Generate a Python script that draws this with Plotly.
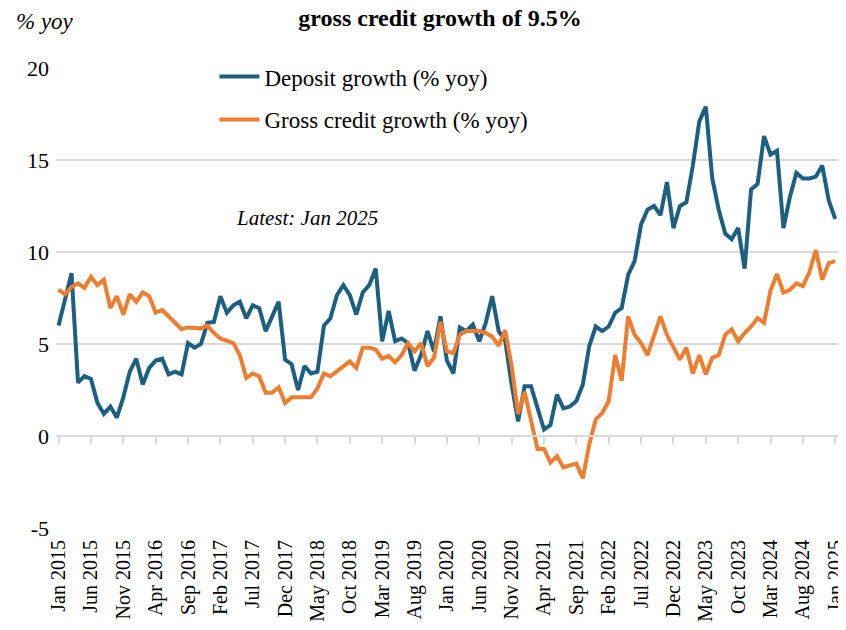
import plotly.graph_objects as go

# Monthly data, Jan 2015 .. Jan 2025 (121 months)
deposit_growth = [
    6.0, 7.4, 8.85, 2.9, 3.25, 3.1, 1.8, 1.2, 1.6, 1.0,
    2.1, 3.5, 4.2, 2.8, 3.7, 4.1, 4.2, 3.35, 3.5, 3.35,
    5.05, 4.8, 5.0, 6.15, 6.2, 7.6, 6.7, 7.1, 7.3, 6.4,
    7.1, 6.95, 5.7, 6.5, 7.3, 4.15, 3.9, 2.5, 3.8, 3.4,
    3.5, 6.0, 6.4, 7.65, 8.2, 7.65, 6.6, 7.8, 8.2, 9.1,
    5.15, 6.8, 5.15, 5.3, 5.05, 3.55, 4.4, 5.7, 4.6, 6.5,
    4.1, 3.4, 5.9, 5.7, 6.05, 5.15, 6.15, 7.6, 5.7, 5.2,
    2.8, 0.8, 2.7, 2.7, 1.6, 0.35, 0.6, 2.25, 1.5, 1.6,
    1.9, 2.8, 4.9, 5.95, 5.7, 5.95, 6.7, 6.95, 8.75, 9.5,
    11.5, 12.3, 12.5, 12.0, 13.8, 11.3, 12.5, 12.7, 14.7, 17.1,
    17.9, 14.0, 12.3, 11.0, 10.7, 11.3, 9.1, 13.4, 13.7, 16.3,
    15.3, 15.5, 11.3, 13.0, 14.3, 14.0, 14.0, 14.1, 14.7, 12.8,
    11.8,
]

gross_credit_growth = [
    7.95, 7.7, 8.1, 8.3, 8.05, 8.65, 8.2, 8.5, 6.95, 7.6,
    6.6, 7.7, 7.3, 7.8, 7.6, 6.7, 6.85, 6.5, 6.15, 5.8,
    5.9, 5.9, 5.85, 6.0, 5.6, 5.3, 5.2, 5.05, 4.4, 3.15,
    3.4, 3.25, 2.35, 2.35, 2.65, 1.8, 2.1, 2.1, 2.1, 2.1,
    2.6, 3.4, 3.25, 3.5, 3.8, 4.05, 3.7, 4.8, 4.8, 4.7,
    4.2, 4.35, 4.0, 4.4, 5.05, 4.6, 5.05, 3.8, 4.25, 6.2,
    4.6, 4.5, 5.5, 5.7, 5.7, 5.7, 5.6, 5.4, 4.9, 5.75,
    3.8, 1.2, 2.4, 0.9, -0.7, -0.7, -1.45, -1.1, -1.7, -1.6,
    -1.5, -2.3, -0.45, 0.9, 1.25, 1.9, 4.4, 3.0, 6.5, 5.5,
    5.05, 4.4, 5.5, 6.5, 5.5, 4.8, 4.15, 4.8, 3.4, 4.4,
    3.35, 4.25, 4.4, 5.5, 5.8, 5.15, 5.6, 5.95, 6.4, 6.15,
    7.9, 8.8, 7.8, 7.95, 8.3, 8.15, 8.9, 10.1, 8.5, 9.4,
    9.5,
]

tick_labels = [
    "Jan 2015", "Jun 2015", "Nov 2015", "Apr 2016", "Sep 2016", "Feb 2017",
    "Jul 2017", "Dec 2017", "May 2018", "Oct 2018", "Mar 2019", "Aug 2019",
    "Jan 2020", "Jun 2020", "Nov 2020", "Apr 2021", "Sep 2021", "Feb 2022",
    "Jul 2022", "Dec 2022", "May 2023", "Oct 2023", "Mar 2024", "Aug 2024",
    "Jan 2025",
]
tick_step = 5  # months between labelled ticks

y_tick_vals = [-5, 0, 5, 10, 15, 20]
y_tick_text = ["-5", "0", "5", "10", "15", "20"]

months = list(range(len(deposit_growth)))
tick_vals = [k * tick_step for k in range(len(tick_labels))]

BLUE = "#1d5f80"
ORANGE = "#ed7d31"
GRID = "#d9d9d9"
SERIF = "Liberation Serif, Times New Roman, serif"

fig = go.Figure()
fig.add_trace(go.Scatter(
    x=months, y=deposit_growth, mode="lines", name="Deposit growth (% yoy)",
    line=dict(color=BLUE, width=4), legendgroup="a",
    xaxis="x", yaxis="y",
))
fig.add_trace(go.Scatter(
    x=months, y=gross_credit_growth, mode="lines", name="Gross credit growth (% yoy)",
    line=dict(color=ORANGE, width=4), legendgroup="b",
    xaxis="x2", yaxis="y",
))

xr = [-0.4, 121.2]
yr = [-5, 20]

fig.update_layout(
    width=838, height=622,
    margin=dict(l=48, r=0, t=60, b=102),
    paper_bgcolor="white", plot_bgcolor="white",
    font=dict(family=SERIF, size=22, color="#000000"),
    showlegend=True,
    legend=dict(
        x=0.2013, y=1.028, xanchor="left", yanchor="top",
        bgcolor="rgba(0,0,0,0)", font=dict(family=SERIF, size=23, color="#000000"),
        tracegroupgap=10, itemwidth=40,
    ),
    title=dict(
        text="<b>gross credit growth of 9.5%</b>",
        x=0.5155, xref="container", xanchor="center",
        y=0.998, yref="container", yanchor="top",
        font=dict(family=SERIF, size=24, color="#000000"),
    ),
    xaxis=dict(
        range=xr, tickmode="array", tickvals=tick_vals, ticktext=tick_labels,
        tickangle=-90, showgrid=False, zeroline=False, showline=False,
        ticks="", tickfont=dict(family=SERIF, size=20, color="#000000"),
        ticklabelstandoff=7, ticklabeloverflow="allow",
    ),
    xaxis2=dict(
        range=xr, overlaying="x", anchor="free", position=0.2,
        tickmode="array", tickvals=tick_vals, showticklabels=False,
        showgrid=False, zeroline=False, showline=True, linecolor=GRID, linewidth=1.5,
        ticks="outside", ticklen=7, tickcolor=GRID, tickwidth=1.5,
    ),
    yaxis=dict(
        range=yr, tickmode="array", tickvals=y_tick_vals, ticktext=y_tick_text,
        showgrid=True, gridcolor=GRID, gridwidth=1.5, zeroline=False,
        showline=False, ticks="", tickfont=dict(family=SERIF, size=22, color="#000000"),
        ticklabelstandoff=6,
    ),
    annotations=[
        dict(text="<i>% yoy</i>", x=-0.053, xref="paper", xanchor="left",
             y=1.1, yref="paper", yanchor="middle", showarrow=False,
             font=dict(family=SERIF, size=23, color="#000000")),
        dict(text="<i>Latest: Jan 2025</i>", x=0.319, xref="paper", xanchor="center",
             y=0.674, yref="paper", yanchor="middle", showarrow=False,
             font=dict(family=SERIF, size=21, color="#000000")),
    ],
)

fig.write_html("out.html")
